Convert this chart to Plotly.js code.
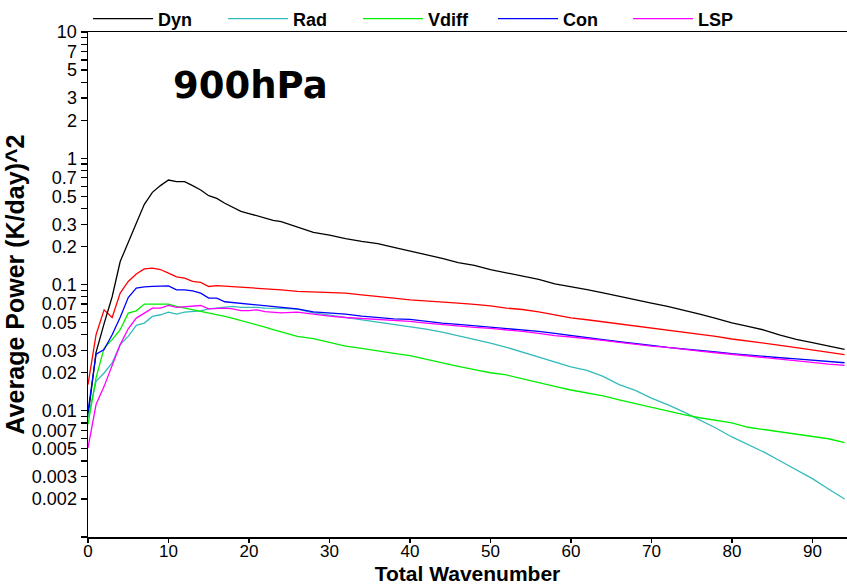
<!DOCTYPE html>
<html>
<head>
<meta charset="utf-8">
<script src="https://cdn.plot.ly/plotly-3.0.1.min.js"></script>
<style>
  html, body { margin: 0; padding: 0; background: #fff; }
  #chart { width: 847px; height: 586px; }
</style>
</head>
<body>
<div id="chart"></div>
<script>
// Total wavenumber (x)
var wavenumber = [0,1,2,3,4,5,6,7,8,9,10,11,12,13,14,15,16,17,18,19,20,21,22,23,
  24,26,28,30,32,34,36,38,40,42,44,46,48,50,52,54,56,58,60,62,64,66,68,70,72,74,76,78,80,82,84,86,88,90,92,94];

var dyn = [0.009,0.029,0.049,0.080,0.152,0.219,0.305,0.432,0.537,0.607,0.672,0.652,0.652,0.607,0.560,0.505,0.481,0.44,0.41,0.38,0.365,0.35,0.335,0.322,
  0.315,0.284,0.259,0.246,0.231,0.220,0.211,0.197,0.185,0.172,0.161,0.149,0.142,0.131,0.124,0.117,0.110,0.101,0.0964,0.0912,0.0859,0.0803,0.0752,0.0711,0.0670,0.0627,0.0582,0.0538,0.0497,0.0466,0.0436,0.0397,0.0367,0.0346,0.0324,0.0306];

var rad = [0.00877,0.0171,0.0199,0.0239,0.0334,0.0388,0.0474,0.0495,0.0559,0.0576,0.0604,0.0582,0.0604,0.0612,0.0619,0.0642,0.065,0.066,0.067,0.066,0.066,0.066,0.065,0.065,
  0.0646,0.0638,0.0597,0.0572,0.0548,0.0529,0.0507,0.0480,0.0463,0.0443,0.0420,0.0393,0.0372,0.0344,0.0318,0.0290,0.0265,0.0242,0.0223,0.0209,0.0187,0.0161,0.0145,0.0126,0.0112,0.0098,0.0085,0.0073,0.0062,0.0054,0.0047,0.0040,0.0034,0.0029,0.0024,0.0020];

var vdiff = [0.00778,0.0182,0.0314,0.0366,0.0438,0.0593,0.0619,0.070,0.070,0.070,0.070,0.067,0.065,0.0631,0.0612,0.060,0.058,0.056,0.054,0.052,0.050,0.048,0.046,0.044,
  0.0420,0.0388,0.0372,0.0346,0.0325,0.0312,0.0297,0.0285,0.0273,0.0255,0.0240,0.0225,0.0212,0.0200,0.0192,0.0180,0.0168,0.0156,0.0146,0.0138,0.0131,0.0122,0.0114,0.0106,0.0099,0.0093,0.0088,0.0084,0.0080,0.0074,0.0071,0.0068,0.0065,0.0062,0.0060,0.0056];

var con = [0.0099,0.0281,0.0305,0.040,0.055,0.0789,0.0935,0.0959,0.0965,0.0965,0.0976,0.0907,0.0907,0.089,0.0855,0.078,0.078,0.073,0.072,0.071,0.070,0.069,0.068,0.067,
  0.0666,0.0642,0.0608,0.0597,0.0582,0.0562,0.0545,0.0535,0.0529,0.0510,0.0494,0.0483,0.0471,0.0460,0.0449,0.0436,0.0425,0.0410,0.0393,0.0379,0.0365,0.0352,0.0342,0.0330,0.0318,0.0310,0.0301,0.0292,0.0283,0.0275,0.0268,0.0263,0.0258,0.0253,0.0248,0.0240];

var lsp = [0.00508,0.0112,0.0156,0.0225,0.0334,0.0446,0.0542,0.0593,0.065,0.065,0.0682,0.0658,0.0666,0.0674,0.0682,0.0642,0.065,0.065,0.064,0.062,0.062,0.063,0.061,0.060,
  0.0597,0.0604,0.0579,0.0562,0.0548,0.0538,0.0532,0.0522,0.0510,0.0494,0.0480,0.0466,0.0457,0.0449,0.0438,0.0425,0.0410,0.0393,0.0384,0.0374,0.0361,0.0348,0.0336,0.0325,0.0318,0.0306,0.0297,0.0288,0.0280,0.0273,0.0267,0.0258,0.0249,0.0242,0.0234,0.0229];

var total = [0.0161,0.040,0.063,0.0548,0.0855,0.1057,0.121,0.133,0.1346,0.1314,0.123,0.115,0.1122,0.1057,0.1038,0.0964,0.098,0.097,0.096,0.095,0.095,0.094,0.093,0.092,
  0.0907,0.0881,0.0870,0.0865,0.0853,0.0828,0.0808,0.0780,0.0756,0.0743,0.0725,0.0711,0.0695,0.0678,0.0650,0.0634,0.0608,0.0576,0.0545,0.0526,0.0507,0.0489,0.0471,0.0454,0.0438,0.0422,0.0402,0.0388,0.0370,0.0357,0.0346,0.0330,0.0316,0.0303,0.0290,0.0278];

// Tick labels
var yLabelVals = [0.002,0.003,0.005,0.007,0.01,0.02,0.03,0.05,0.07,0.1,0.2,0.3,0.5,0.7,1,2,3,5,7,10];
var yLabelText = ["0.002","0.003","0.005","0.007","0.01","0.02","0.03","0.05","0.07","0.1","0.2","0.3","0.5","0.7","1","2","3","5","7","10"];
var yMinorMult = [1,2,3,4,5,6,7,8,9];
var yDecades = [0.001,0.01,0.1,1];
var xTickVals = [0,10,20,30,40,50,60,70,80,90];

var seriesNames = ["Dyn","Rad","Vdiff","Con","LSP"];
var seriesColors = ["#000000","#33bbbb","#00ee00","#0000ff","#ff00ff"];
var seriesData = [dyn, rad, vdiff, con, lsp];

var tickFamily = "Liberation Sans, Arial, sans-serif";

// build y ticks (all minor positions, labels only on listed ones)
var tickvals = [], ticktext = [];
yDecades.forEach(function(d){
  yMinorMult.forEach(function(m){
    var v = +(d*m).toPrecision(3);
    tickvals.push(v);
    var idx = yLabelVals.findIndex(function(u){ return Math.abs(u - v) < v*1e-6; });
    ticktext.push(idx >= 0 ? yLabelText[idx] : "");
  });
});
tickvals.push(10); ticktext.push("10");

var traces = [{
  x: wavenumber, y: total, type: "scatter", mode: "lines",
  line: {color: "#ff0000", width: 1.3}, showlegend: false, name: "Total", hoverinfo: "skip"
}];
seriesNames.forEach(function(n, i){
  traces.push({
    x: wavenumber, y: seriesData[i], type: "scatter", mode: "lines", name: n,
    line: {color: seriesColors[i], width: 1.3}
  });
});

var layout = {
  width: 847, height: 586,
  margin: {l: 88, r: 0, t: 30, b: 49},
  paper_bgcolor: "#fff", plot_bgcolor: "#fff",
  font: {family: "Liberation Sans, Arial, sans-serif", color: "#000"},
  showlegend: true,
  legend: {
    orientation: "h", x: 0, xanchor: "left", y: 1.026, yanchor: "middle",
    font: {size: 18, weight: "bold", family: "Liberation Sans, Arial, sans-serif"},
    itemwidth: 60, entrywidth: 60, entrywidthmode: "pixels",
    bgcolor: "rgba(0,0,0,0)", traceorder: "normal"
  },
  xaxis: {
    range: [0, 94.3], tickvals: xTickVals, ticks: "outside", ticklen: 4, tickwidth: 1.2,
    tickcolor: "#000", showline: true, linecolor: "#000", linewidth: 1.5, mirror: true,
    showgrid: false, zeroline: false, ticklabelstandoff: -6,
    tickfont: {size: 17, family: tickFamily},
    title: {text: "Total Wavenumber", font: {size: 21, weight: "bold"}, standoff: 6}
  },
  yaxis: {
    type: "log", range: [-3, 1], tickvals: tickvals, ticktext: ticktext,
    ticks: "outside", ticklen: 6, tickwidth: 1.2, tickcolor: "#000",
    showline: true, linecolor: "#000", linewidth: 1.5, mirror: true,
    showgrid: false, zeroline: false,
    tickfont: {size: 18, family: tickFamily},
    title: {text: "Average Power (K/day)^2", font: {size: 25, weight: "bold"}, standoff: 0}
  },
  annotations: [{
    text: "900hPa", xref: "paper", yref: "paper", x: 0.109, y: 0.895,
    xanchor: "left", yanchor: "middle", showarrow: false,
    font: {family: "DejaVu Sans, sans-serif", size: 37, weight: "bold", color: "#000"}
  }]
};

Plotly.newPlot("chart", traces, layout, {displayModeBar: false, staticPlot: true});
</script>
</body>
</html>
